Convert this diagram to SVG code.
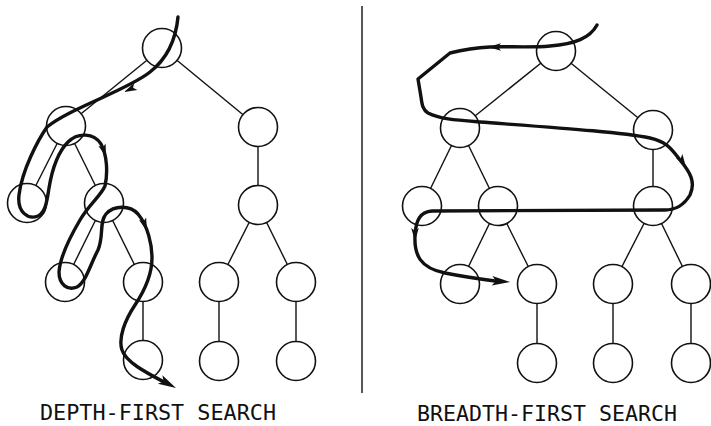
<svg xmlns="http://www.w3.org/2000/svg" width="711" height="426" viewBox="0 0 711 426">
<style>
.node circle{fill:#fff;stroke:#111;stroke-width:1.6}
.edge{stroke:#111;stroke-width:1.4;fill:none}
.trav{stroke:#111;stroke-width:3.4;fill:none;stroke-linecap:round;stroke-linejoin:round}
.label{font-family:"DejaVu Sans Mono","Liberation Mono",monospace;font-size:21px;fill:#111}
.ah{fill:#111}
</style>
<defs>
<path id="arr" d="M0,0 L-13,-3.8 L-10,0 L-13,3.8 Z"/>
<path id="arrEnd" d="M0,0 L-18,-4.8 L-14,0 L-18,4.8 Z"/>
</defs>
<rect width="711" height="426" fill="#fff"/>
<line class="edge" x1="362" y1="6" x2="362" y2="393"/>
<g id="connectors">
<line class="edge" x1="162" y1="48" x2="66" y2="126"/>
<line class="edge" x1="162" y1="48" x2="258" y2="127"/>
<line class="edge" x1="66" y1="126" x2="27" y2="203"/>
<line class="edge" x1="66" y1="126" x2="104" y2="203"/>
<line class="edge" x1="258" y1="127" x2="258" y2="205"/>
<line class="edge" x1="104" y1="203" x2="65" y2="282"/>
<line class="edge" x1="104" y1="203" x2="143" y2="282"/>
<line class="edge" x1="258" y1="205" x2="219" y2="282"/>
<line class="edge" x1="258" y1="205" x2="296" y2="282"/>
<line class="edge" x1="143" y1="282" x2="143" y2="360"/>
<line class="edge" x1="219" y1="282" x2="219" y2="361"/>
<line class="edge" x1="296" y1="282" x2="296" y2="361"/>
<line class="edge" x1="556" y1="51" x2="460" y2="128"/>
<line class="edge" x1="556" y1="51" x2="653" y2="130"/>
<line class="edge" x1="460" y1="128" x2="422" y2="206"/>
<line class="edge" x1="460" y1="128" x2="498" y2="206"/>
<line class="edge" x1="653" y1="130" x2="653" y2="206"/>
<line class="edge" x1="498" y1="206" x2="460" y2="284"/>
<line class="edge" x1="498" y1="206" x2="537" y2="284"/>
<line class="edge" x1="653" y1="206" x2="613" y2="284"/>
<line class="edge" x1="653" y1="206" x2="691" y2="284"/>
<line class="edge" x1="537" y1="284" x2="537" y2="363"/>
<line class="edge" x1="613" y1="284" x2="613" y2="363"/>
<line class="edge" x1="691" y1="284" x2="691" y2="363"/>
</g>
<g class="node" id="d-a"><circle cx="162" cy="48" r="19.5"/></g>
<g class="node" id="d-b"><circle cx="66" cy="126" r="19.5"/></g>
<g class="node" id="d-c"><circle cx="258" cy="127" r="19.5"/></g>
<g class="node" id="d-d"><circle cx="27" cy="203" r="19.5"/></g>
<g class="node" id="d-e"><circle cx="104" cy="203" r="19.5"/></g>
<g class="node" id="d-f"><circle cx="258" cy="205" r="19.5"/></g>
<g class="node" id="d-g"><circle cx="65" cy="282" r="19.5"/></g>
<g class="node" id="d-h"><circle cx="143" cy="282" r="19.5"/></g>
<g class="node" id="d-i"><circle cx="219" cy="282" r="19.5"/></g>
<g class="node" id="d-j"><circle cx="296" cy="282" r="19.5"/></g>
<g class="node" id="d-k"><circle cx="143" cy="360" r="19.5"/></g>
<g class="node" id="d-l"><circle cx="219" cy="361" r="19.5"/></g>
<g class="node" id="d-m"><circle cx="296" cy="361" r="19.5"/></g>
<g class="node" id="b-a"><circle cx="556" cy="51" r="19.5"/></g>
<g class="node" id="b-b"><circle cx="460" cy="128" r="19.5"/></g>
<g class="node" id="b-c"><circle cx="653" cy="130" r="19.5"/></g>
<g class="node" id="b-d"><circle cx="422" cy="206" r="19.5"/></g>
<g class="node" id="b-e"><circle cx="498" cy="206" r="19.5"/></g>
<g class="node" id="b-f"><circle cx="653" cy="206" r="19.5"/></g>
<g class="node" id="b-g"><circle cx="460" cy="284" r="19.5"/></g>
<g class="node" id="b-h"><circle cx="537" cy="284" r="19.5"/></g>
<g class="node" id="b-i"><circle cx="613" cy="284" r="19.5"/></g>
<g class="node" id="b-j"><circle cx="691" cy="284" r="19.5"/></g>
<g class="node" id="b-k"><circle cx="537" cy="363" r="19.5"/></g>
<g class="node" id="b-l"><circle cx="613" cy="363" r="19.5"/></g>
<g class="node" id="b-m"><circle cx="691" cy="363" r="19.5"/></g>
<g id="traversals">
<path class="trav" d="M178,17 C176,38 168,58 150,72 C128,90 70,108 47,127 C38,140 22,170 19,195 C17,212 28,220 38,216 C46,212 47,200 49,188 C52,170 58,152 68,142 C78,132 94,133 101,144 C107,155 108,172 105,186 C100,197 90,203 80,220 C70,237 60,258 59,272 C59,285 68,291 77,287 C86,282 90,265 98,250 C104,236 99,222 106,214 C114,205 130,205 138,214 C148,226 152,245 152,258 C152,275 145,290 135,305 C125,320 118,338 122,350 C126,362 145,372 164,382"/>
<use href="#arr" class="ah" transform="translate(124,92) rotate(155)"/>
<use href="#arr" class="ah" transform="translate(106,157) rotate(72)"/>
<use href="#arr" class="ah" transform="translate(147,231) rotate(70)"/>
<use href="#arrEnd" class="ah" transform="translate(176,388) rotate(28)"/>
<path class="trav" d="M597,25 C590,38 575,44 550,46 C530,48 505,46 490,47 C470,48 458,51 450,53 L418,79 L421,97 C422,105 423,110 428,113 C440,119 455,120 480,122 C560,128 620,132 650,138 C668,142 672,150 680,160 C690,172 696,182 690,195 C684,205 676,210 665,210 L432,211 C420,212 416,220 415,235 C414,255 420,268 445,273 C465,277 480,279 495,281"/>
<use href="#arr" class="ah" transform="translate(488,47) rotate(180)"/>
<use href="#arr" class="ah" transform="translate(686,167) rotate(58)"/>
<use href="#arr" class="ah" transform="translate(415,241) rotate(90)"/>
<use href="#arrEnd" class="ah" transform="translate(510,282) rotate(4)"/>
</g>
<text class="label" x="40" y="420" textLength="236" lengthAdjust="spacingAndGlyphs">DEPTH-FIRST SEARCH</text>
<text class="label" x="417" y="421" textLength="260" lengthAdjust="spacingAndGlyphs">BREADTH-FIRST SEARCH</text>
</svg>
